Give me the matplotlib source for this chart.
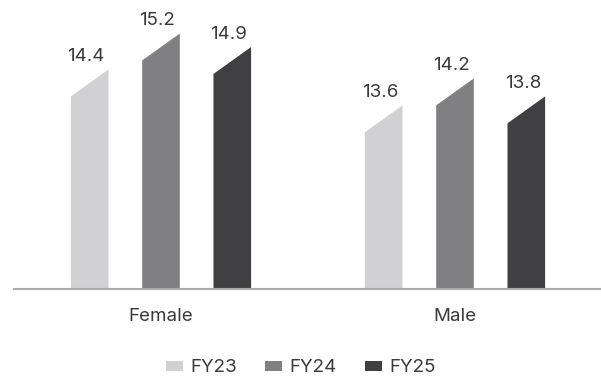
import matplotlib
matplotlib.use("Agg")
import matplotlib.pyplot as plt
from matplotlib.patches import Polygon, Patch
import numpy as np

CATEGORIES = ["Female", "Male"]
SERIES = ["FY23", "FY24", "FY25"]
VALUES = {
    "FY23": [14.4, 13.6],
    "FY24": [15.2, 14.2],
    "FY25": [14.9, 13.8],
}
COLORS = {"FY23": "#d1d1d3", "FY24": "#808083", "FY25": "#404043"}

plt.rcParams["font.family"] = ["Inter", "DejaVu Sans"]
TXT = "#3a3a3a"
FS = 13.5

fig = plt.figure(figsize=(6.01, 3.81), dpi=100)
ax = fig.add_axes([14 / 601, 92 / 381, 588 / 601, 289 / 381])

base = 9.51
step, w, slant = 0.2425, 0.128, 0.6
x = np.arange(len(CATEGORIES))
for k, s in enumerate(SERIES):
    off = (k - 1) * step
    for i, v in enumerate(VALUES[s]):
        x0, x1 = x[i] + off - w / 2, x[i] + off + w / 2
        ax.add_patch(Polygon([(x0, base), (x1, base), (x1, v), (x0, v - slant)],
                             closed=True, facecolor=COLORS[s], edgecolor="none"))
        ax.annotate(f"{v:.1f}", (x[i] + off - 0.012, v), xytext=(0, 3),
                    textcoords="offset points", ha="center", va="bottom",
                    fontsize=FS, color=TXT)

ax.set_xlim(-0.5, 1.5)
ax.set_ylim(base, base + 289 / 44.9)
for sp in ["top", "right", "left"]:
    ax.spines[sp].set_visible(False)
ax.spines["bottom"].set_color("#ababab")
ax.spines["bottom"].set_linewidth(1.5)
ax.set_yticks([])
ax.set_xticks(x)
ax.set_xticklabels(CATEGORIES, fontsize=FS, color=TXT)
ax.tick_params(axis="x", length=0, pad=14)

handles = [Patch(facecolor=COLORS[s], edgecolor="none", label=s) for s in SERIES]
fig.legend(handles=handles, loc="center", bbox_to_anchor=(0.5, 1 - 368 / 381),
           ncol=3, frameon=False, fontsize=FS, handlelength=0.9,
           handleheight=0.42, handletextpad=0.4, columnspacing=1.5,
           labelcolor=TXT)

fig.savefig("out.png", dpi=100)
